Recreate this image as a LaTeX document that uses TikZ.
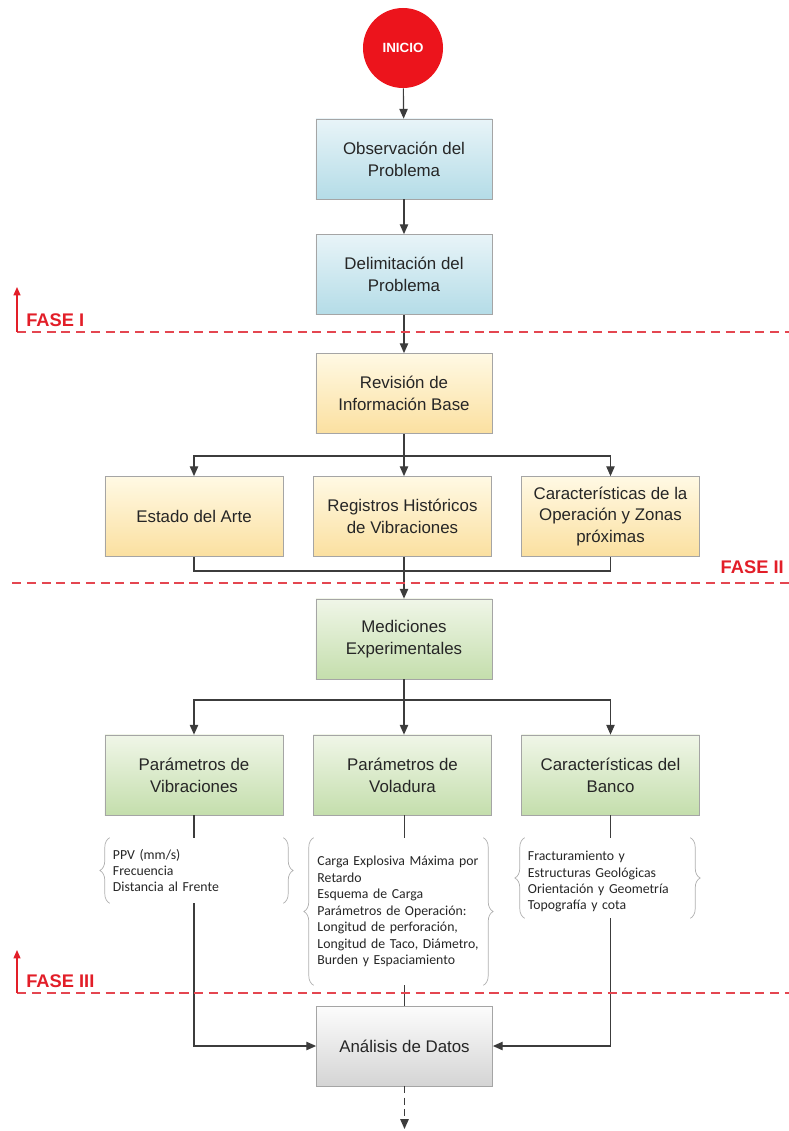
\documentclass[tikz,border=0pt]{standalone}
\usepackage{fontspec}
\setmainfont{Liberation Sans}
\newfontfamily\calibri{Carlito}
\usetikzlibrary{arrows.meta, decorations.pathreplacing}

\definecolor{boxgray}{RGB}{165,165,165}
\definecolor{linegray}{RGB}{60,60,60}
\definecolor{bracegray}{RGB}{175,175,175}
\definecolor{faseRed}{RGB}{226,30,40}
\definecolor{dashRed}{RGB}{228,70,80}
\definecolor{startRed}{RGB}{236,20,28}
\definecolor{blueTop}{RGB}{232,244,248}
\definecolor{blueBot}{RGB}{180,220,231}
\definecolor{yelTop}{RGB}{255,249,228}
\definecolor{yelBot}{RGB}{251,224,160}
\definecolor{grnTop}{RGB}{240,246,232}
\definecolor{grnBot}{RGB}{196,222,172}
\definecolor{gryTop}{RGB}{252,252,252}
\definecolor{gryBot}{RGB}{212,212,212}

\tikzset{
    box/.style={draw=boxgray, line width=0.5pt, minimum width=4.4cm, minimum height=2cm,
        align=center, inner sep=2pt, font=\fontsize{12}{15.5}\selectfont, text=black!85},
    blue box/.style={box, top color=blueTop, bottom color=blueBot},
    yellow box/.style={box, top color=yelTop, bottom color=yelBot},
    green box/.style={box, top color=grnTop, bottom color=grnBot},
    gray box/.style={box, top color=gryTop, bottom color=gryBot},
    wide/.style={minimum width=4.45cm},
    info/.style={align=left, inner ysep=0pt, font=\calibri\fontsize{9.8}{11.7}\selectfont, text=black!85},
    curly/.style={draw=bracegray, line width=0.5pt, decorate, decoration={brace, amplitude=7pt}},
    link/.style={draw=linegray, line width=0.8pt},
    flow/.style={link, -{Triangle[length=7pt,width=6pt]}},
    fase line/.style={draw=dashRed, line width=0.9pt, dash pattern=on 6.5pt off 4pt},
    fase arrow/.style={draw=faseRed, line width=0.9pt, -{Triangle[length=6pt,width=5pt]}},
    fase label/.style={text=faseRed, inner sep=0pt, font=\bfseries\fontsize{13}{15}\selectfont}
}

\begin{document}
\begin{tikzpicture}[x=0.025cm, y=-0.025cm]
    \useasboundingbox (0,0) rectangle (789,1131);

    % main column
    \node [circle, fill=startRed, minimum size=2cm, inner sep=0pt, text=white,
           font=\bfseries\fontsize{9.5}{11}\selectfont] (inicio) at (403,48) {INICIO};
    \node [blue box] (obs) at (404,159) {Observación del\\Problema};
    \node [blue box] (del) at (404,274.5) {Delimitación del\\Problema};
    \node [yellow box] (rev) at (404,393.5) {Revisión de\\Información Base};

    \node [yellow box, wide] (arte) at (194,516.5) {Estado del Arte};
    \node [yellow box, wide] (hist) at (402.5,516.5) {Registros Históricos\\de Vibraciones};
    \node [yellow box, wide] (oper) at (610.5,516.5) {Características de la\\Operación y Zonas\\próximas};

    \node [green box] (med) at (404,639) {Mediciones\\Experimentales};

    \node [green box, wide] (parvib) at (194,775) {Parámetros de\\Vibraciones};
    \node [green box, wide] (parvol) at (402.5,775) {Parámetros de\\Voladura};
    \node [green box, wide] (parban) at (610.5,775) {Características del\\Banco};

    % detail lists
    \node [info, text width=4.175cm, inner xsep=0.075cm, minimum height=1.625cm] (vib) at (196.5,870.5)
        {PPV (mm/s)\\Frecuencia\\Distancia al Frente};
    \node [info, text width=4.05cm, inner xsep=0.0875cm, minimum height=3.675cm] (vol) at (398.5,911.5)
        {Carga Explosiva Máxima por\\Retardo\\Esquema de Carga\\Parámetros de Operación:\\Longitud de perforación,\\Longitud de Taco, Diámetro,\\Burden y Espaciamiento\\[12pt]};
    \node [info, text width=3.975cm, inner xsep=0.075cm, minimum height=2cm] (ban) at (607.5,878)
        {\rule{0pt}{12pt}Fracturamiento y\\Estructuras Geológicas\\Orientación y Geometría\\Topografía y cota};
    \foreach \n in {vib, vol, ban} {
        \draw [curly] (\n.south west) -- (\n.north west);
        \draw [curly] (\n.north east) -- (\n.south east);
    }

    \node [gray box] (ana) at (404.5,1046) {Análisis de Datos};
    \coordinate (fin) at (404.5,1129);

    % connectors
    \draw [flow] (inicio) -- (obs);
    \draw [flow] (obs) -- (del);
    \draw [flow] (del) -- (rev);

    \coordinate (split1) at (404,456);
    \draw [link] (rev.south) -- (split1);
    \draw [flow] (split1) -| (arte.north);
    \draw [flow] (split1) -| (oper.north);
    \draw [flow] (split1) -- (hist.north -| split1);

    \coordinate (join1) at (404,571);
    \draw [link] (arte.south) |- (join1) -| (oper.south);
    \draw [link] (hist.south -| join1) -- (join1);
    \draw [flow] (join1) -- (med.north);

    \coordinate (split2) at (404,700);
    \draw [link] (med.south) -- (split2);
    \draw [flow] (split2) -| (parvib.north);
    \draw [flow] (split2) -| (parban.north);
    \draw [flow] (split2) -- (parvol.north -| split2);

    \draw [link] (parvib.south) -- (parvib.south |- vib.north);
    \draw [flow] (parvib.south |- vib.south) |- (ana.west);
    \draw [link] (parvol.south -| ana.north) -- (ana.north |- vol.north);
    \draw [link] (ana.north |- vol.south) -- (ana.north);
    \draw [link] (parban.south) -- (parban.south |- ban.north);
    \draw [flow] (parban.south |- ban.south) |- (ana.east);
    \draw [flow, dash pattern=on 5pt off 3pt] (ana.south) -- (fin);

    % phases
    \coordinate (f1) at (17,332);
    \draw [fase line] (f1) -- (789,332);
    \draw [fase arrow] (f1) -- (17,287);
    \node [fase label, anchor=base west] (fase1) at (26,326) {FASE I};

    \draw [fase line] (12,583) -- (789,583);
    \node [fase label, anchor=base east] (fase2) at (784,573) {FASE II};

    \coordinate (f3) at (17,993);
    \draw [fase line] (f3) -- (789,993);
    \draw [fase arrow] (f3) -- (17,950);
    \node [fase label, anchor=base west] (fase3) at (26,987) {FASE III};
\end{tikzpicture}
\end{document}
